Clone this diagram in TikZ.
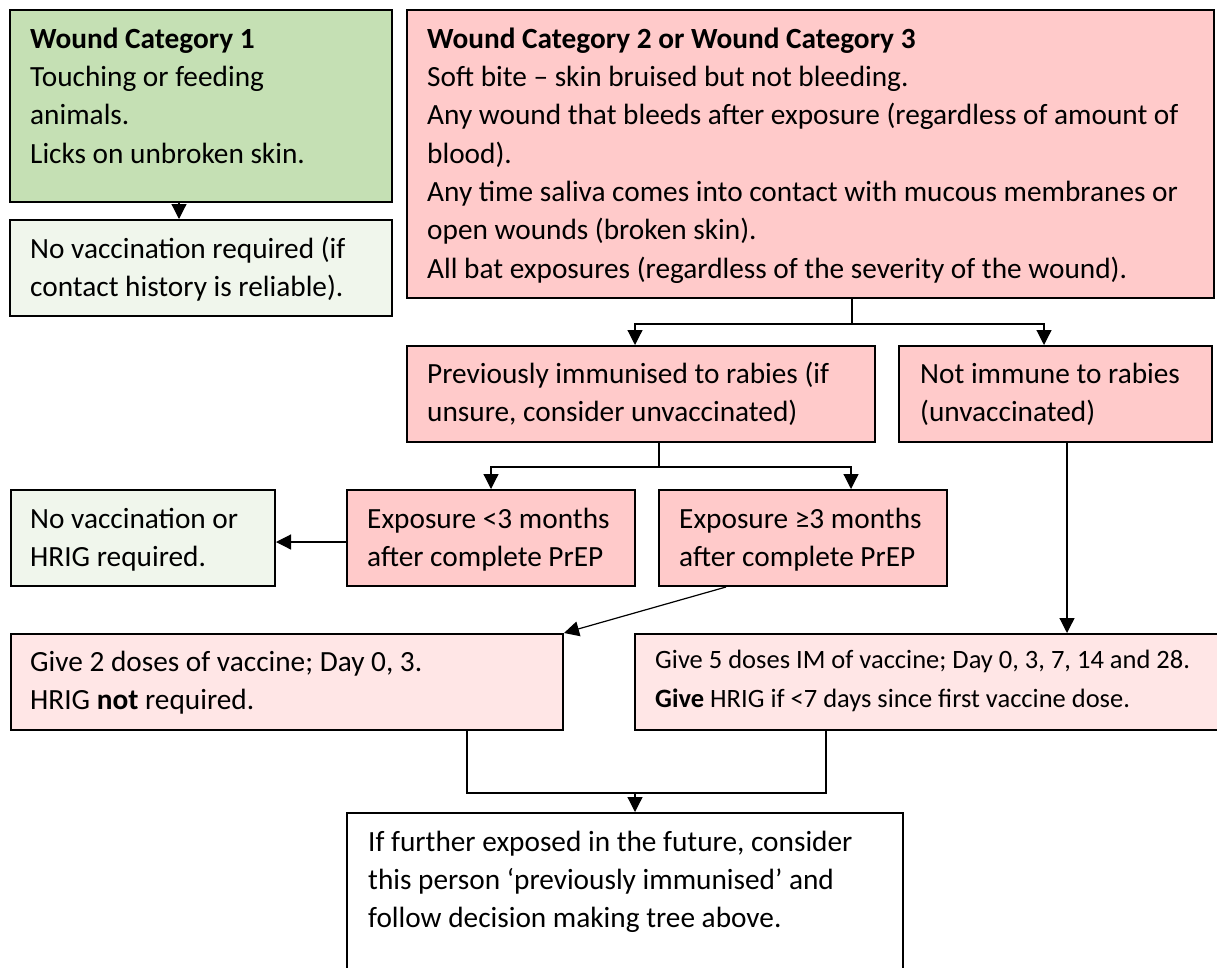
\documentclass[tikz,border=0pt]{standalone}
\usepackage{fontspec}
\setmainfont{Carlito}
\usetikzlibrary{arrows.meta,calc}
\newcommand\bigf{\fontsize{29.3}{38.3}\selectfont}
\newcommand\smallf{\fontsize{26.5}{39}\selectfont}
\newcommand\stb{\rule{0pt}{22pt}}
\newcommand\sts{\rule{0pt}{20pt}}
\definecolor{catgreen}{HTML}{C5E0B4}
\definecolor{palegreen}{HTML}{F0F6EC}
\definecolor{pinkbox}{HTML}{FFCACA}
\definecolor{palepink}{HTML}{FFE6E6}
\begin{document}
\begin{tikzpicture}[x=1pt,y=-1pt,
  box/.style={draw=black,line width=2pt,inner sep=0pt,anchor=north west},
  txt/.style={anchor=north west,inner sep=0pt,align=left,font=\bigf},
  stxt/.style={anchor=north west,inner sep=0pt,align=left,font=\smallf},
  ln/.style={line width=1.2pt},
  arr/.style={line width=1.2pt,-{Triangle[length=15pt,width=15pt]}}]
\useasboundingbox (0,0) rectangle (1217,967);
\clip (0,0) rectangle (1217,967);
\fill[white] (0,0) rectangle (1217,967);

% boxes
\node[box,fill=catgreen,minimum width=382,minimum height=192] (c1) at (9,9) {};
\node[box,fill=palegreen,minimum width=382,minimum height=96] (nv1) at (9,219) {};
\node[box,fill=pinkbox,minimum width=807,minimum height=288] (c2) at (406,9) {};
\node[box,fill=pinkbox,minimum width=468,minimum height=96] (prev) at (406,345) {};
\node[box,fill=pinkbox,minimum width=313,minimum height=96] (notim) at (898,345) {};
\node[box,fill=palegreen,minimum width=264,minimum height=96] (nv2) at (10,489) {};
\node[box,fill=pinkbox,minimum width=288,minimum height=96] (e1) at (346,489) {};
\node[box,fill=pinkbox,minimum width=288,minimum height=96] (e2) at (658,489) {};
\node[box,fill=palepink,minimum width=552,minimum height=96] (d2) at (10,633) {};
\node[box,fill=palepink,minimum width=600,minimum height=96] (d5) at (634,633) {};
\node[box,fill=white,minimum width=556,minimum height=170] (fin) at (346,812) {};

% texts
\node[txt] (tc1) at ($(c1.north west)+(21,17)$) {\stb\textbf{Wound Category 1}\\Touching or feeding\\animals.\\Licks on unbroken skin.};
\node[txt] (tnv1) at ($(nv1.north west)+(21,17)$) {\stb No vaccination required (if\\contact history is reliable).};
\node[txt] (tc2) at ($(c2.north west)+(21,17)$) {\stb\textbf{Wound Category 2 or Wound Category 3}\\
Soft bite – skin bruised but not bleeding.\\
Any wound that bleeds after exposure (regardless of amount of\\
blood).\\
Any time saliva comes into contact with mucous membranes or\\
open wounds (broken skin).\\
All bat exposures (regardless of the severity of the wound).};
\node[txt] (tprev) at ($(prev.north west)+(21,16)$) {\stb Previously immunised to rabies (if\\unsure, consider unvaccinated)};
\node[txt] (tnotim) at ($(notim.north west)+(22,16)$) {\stb Not immune to rabies\\(unvaccinated)};
\node[txt] (tnv2) at ($(nv2.north west)+(20,17)$) {\stb No vaccination or\\HRIG required.};
\node[txt] (te1) at ($(e1.north west)+(21,17)$) {\stb Exposure <3 months\\after complete PrEP};
\node[txt] (te2) at ($(e2.north west)+(21,17)$) {\stb Exposure ≥3 months\\after complete PrEP};
\node[txt] (td2) at ($(d2.north west)+(20,16)$) {\stb Give 2 doses of vaccine; Day 0, 3.\\HRIG \textbf{not} required.};
\node[stxt] (td5) at ($(d5.north west)+(21,15)$) {\sts Give 5 doses IM of vaccine; Day 0, 3, 7, 14 and 28.\\\textbf{Give} HRIG if <7 days since first vaccine dose.};
\node[txt] (tfin) at ($(fin.north west)+(22,17)$) {\stb If further exposed in the future, consider\\this person ‘previously immunised’ and\\follow decision making tree above.};

% connectors
\draw[arr] ([xshift=-22pt]c1.south) -- ([xshift=-22pt]nv1.north);
\draw[ln] ([xshift=41.5pt]c2.south) -- ++(0,25) coordinate (b1);
\draw[arr] (b1) -| ([xshift=-6pt]prev.north);
\draw[arr] (b1) -| ([xshift=-11.5pt]notim.north);
\draw[ln] ([xshift=18pt]prev.south) -- ++(0,24) coordinate (b2);
\draw[arr] (b2) -| (e1.north);
\draw[arr] (b2) -| ([xshift=48pt]e2.north);
\draw[arr] ([yshift=-4pt]e1.west) -- ([yshift=-4pt]nv2.east);
\draw[arr] ($(e2.south west)+(68,0)$) -- (d2.north east);
\draw[arr] ([xshift=11.5pt]notim.south) -- ([xshift=11.5pt]notim.south |- d5.north);
\coordinate (j) at ($(fin.north)+(10,-19)$);
\draw[ln] ([xshift=180pt]d2.south) |- (j) -| ($(d5.south west)+(192,0)$);
\draw[arr] (j) -- (j |- fin.north);
\end{tikzpicture}
\end{document}
